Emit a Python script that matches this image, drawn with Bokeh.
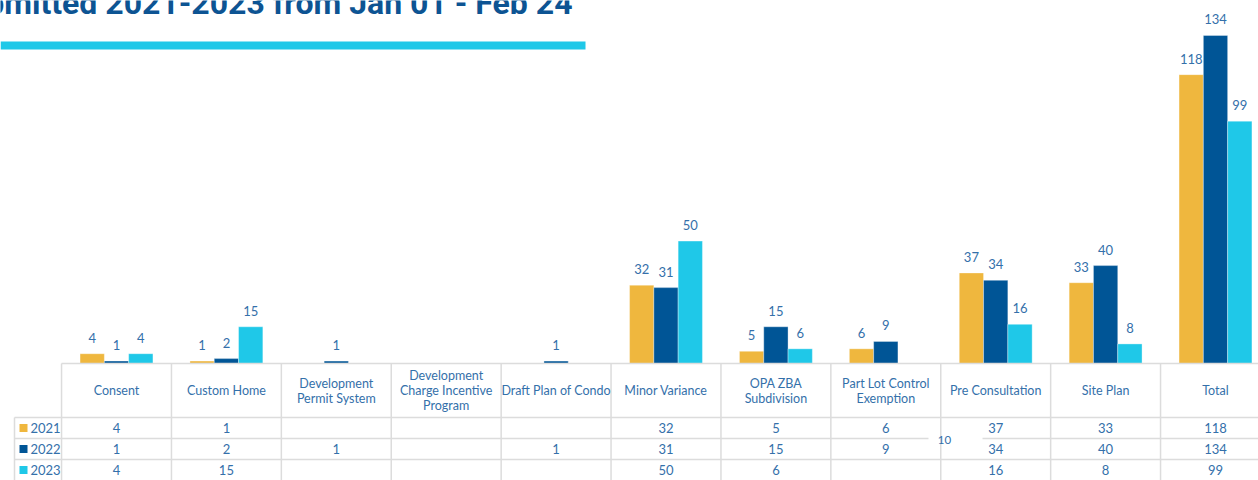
from bokeh.plotting import figure
from bokeh.models import Range1d, ColumnDataSource
from bokeh.core.properties import value
from bokeh.embed import file_html
from bokeh.resources import INLINE

# ---------------- data ----------------
categories = ["Consent", "Custom Home", "Development Permit System",
              "Development Charge Incentive Program", "Draft Plan of Condo",
              "Minor Variance", "OPA ZBA Subdivision", "Part Lot Control Exemption",
              "Pre Consultation", "Site Plan", "Total"]
header_labels = ["Consent", "Custom Home", "Development\nPermit System",
                 "Development\nCharge Incentive\nProgram", "Draft Plan of Condo",
                 "Minor Variance", "OPA ZBA\nSubdivision", "Part Lot Control\nExemption",
                 "Pre Consultation", "Site Plan", "Total"]
years = ["2021", "2022", "2023"]
v2021 = [4, 1, None, None, None, 32, 5, 6, 37, 33, 118]
v2022 = [1, 2, 1, None, 1, 31, 15, 9, 34, 40, 134]
v2023 = [4, 15, None, None, None, 50, 6, None, 16, 8, 99]
series = [v2021, v2022, v2023]
colors = ["#EFB73E", "#005596", "#1FC8E8"]
title_text = "Applications Submitted 2021-2023 from Jan 01 - Feb 24"
stray_label = "10"

# ---------------- layout constants ----------------
W, H = 1258, 480
COL_W = 109.9          # px per category
X0 = 116               # px centre of first category
BASE = 363             # px of value 0
PX_PER_UNIT = 2.448
BAR_W = 24.3 / COL_W
TXT = "#3470AA"
GRID = "#DCDCDC"
FONT = value("Lato")

xs = -X0 / COL_W
p = figure(width=W, height=H, output_backend="svg", toolbar_location=None,
           x_range=Range1d(xs, xs + W / COL_W),
           y_range=Range1d(-(H - BASE) / PX_PER_UNIT, BASE / PX_PER_UNIT),
           x_axis_location=None, y_axis_location=None, min_border=0)
p.extra_x_ranges = {"px": Range1d(0, W)}
p.extra_y_ranges = {"px": Range1d(H, 0)}
p.xgrid.visible = False
p.ygrid.visible = False
p.outline_line_color = None
p.background_fill_color = "white"
p.border_fill_color = "white"

n = len(categories)

# ---------------- title (cropped at the top-left, as in the reference) ----------------
p.text(x=[572], y=[2], text=[title_text], x_range_name="px", y_range_name="px",
       text_align="right", text_baseline="alphabetic", text_font=value("Roboto"),
       text_font_style="bold", text_font_size="32px", text_color="#0D5493")
p.quad(left=[0], right=[585], top=[41], bottom=[49], x_range_name="px", y_range_name="px",
       fill_color="#1FC8E8", line_color=None)

# ---------------- bars ----------------
offsets = [-BAR_W, 0, BAR_W]
for vals, col, off in zip(series, colors, offsets):
    xx = [i + off for i, v in enumerate(vals) if v is not None]
    yy = [v for v in vals if v is not None]
    src = ColumnDataSource(dict(x=xx, top=yy, lab=[str(v) for v in yy]))
    p.vbar(x="x", top="top", bottom=0, width=BAR_W, source=src,
           fill_color=col, line_color="white", line_alpha=0.35, line_width=1)
    p.text(x="x", y="top", text="lab", source=src, text_align="center",
           text_baseline="middle", y_offset=-16, text_font=FONT,
           text_font_size="13px", text_color=TXT)

# ---------------- table grid ----------------
row_lines = [417, 438, 459]
row_centres = [427.5, 448.5, 469.5]
p.segment(x0=[-0.5], x1=[n - 0.5 + 1], y0=[BASE], y1=[BASE],
          y_range_name="px", line_color=GRID, line_width=1.5)
for yl in row_lines:
    p.segment(x0=[14], x1=[W], y0=[yl], y1=[yl], x_range_name="px", y_range_name="px",
              line_color=GRID, line_width=1.5)
# gap in the row line behind the stray label
p.segment(x0=[928], x1=[982], y0=[438], y1=[438], x_range_name="px", y_range_name="px",
          line_color="white", line_width=3)
p.segment(x0=[i - 0.5 for i in range(n)], x1=[i - 0.5 for i in range(n)],
          y0=[BASE] * n, y1=[H] * n, y_range_name="px", line_color=GRID, line_width=1.5)
p.segment(x0=[14], x1=[14], y0=[417], y1=[H], x_range_name="px", y_range_name="px",
          line_color=GRID, line_width=1.5)

# header texts
p.text(x=list(range(n)), y=[390] * n, text=header_labels, y_range_name="px",
       text_align="center", text_baseline="middle", text_font=FONT,
       text_font_size="12.5px", text_color=TXT, text_line_height=1.0)

# cell values
for vals, yc in zip(series, row_centres):
    xx = [i for i, v in enumerate(vals) if v is not None]
    tt = [str(v) for v in vals if v is not None]
    p.text(x=xx, y=[yc] * len(xx), text=tt, y_range_name="px", text_align="center",
           text_baseline="middle", text_font=FONT, text_font_size="13px", text_color=TXT)

# legend column
p.scatter(x=[23] * 3, y=row_centres, marker="square", size=8, fill_color=colors,
          line_color=None, x_range_name="px", y_range_name="px")
p.text(x=[30] * 3, y=row_centres, text=years, x_range_name="px", y_range_name="px",
       text_align="left", text_baseline="middle", text_font=FONT,
       text_font_size="13px", text_color=TXT)

# stray "10"
p.text(x=[944], y=[439], text=[stray_label], x_range_name="px", y_range_name="px",
       text_align="center", text_baseline="middle", text_font=FONT,
       text_font_size="11.5px", text_color=TXT)

open("out.html", "w").write(file_html(p, INLINE))
